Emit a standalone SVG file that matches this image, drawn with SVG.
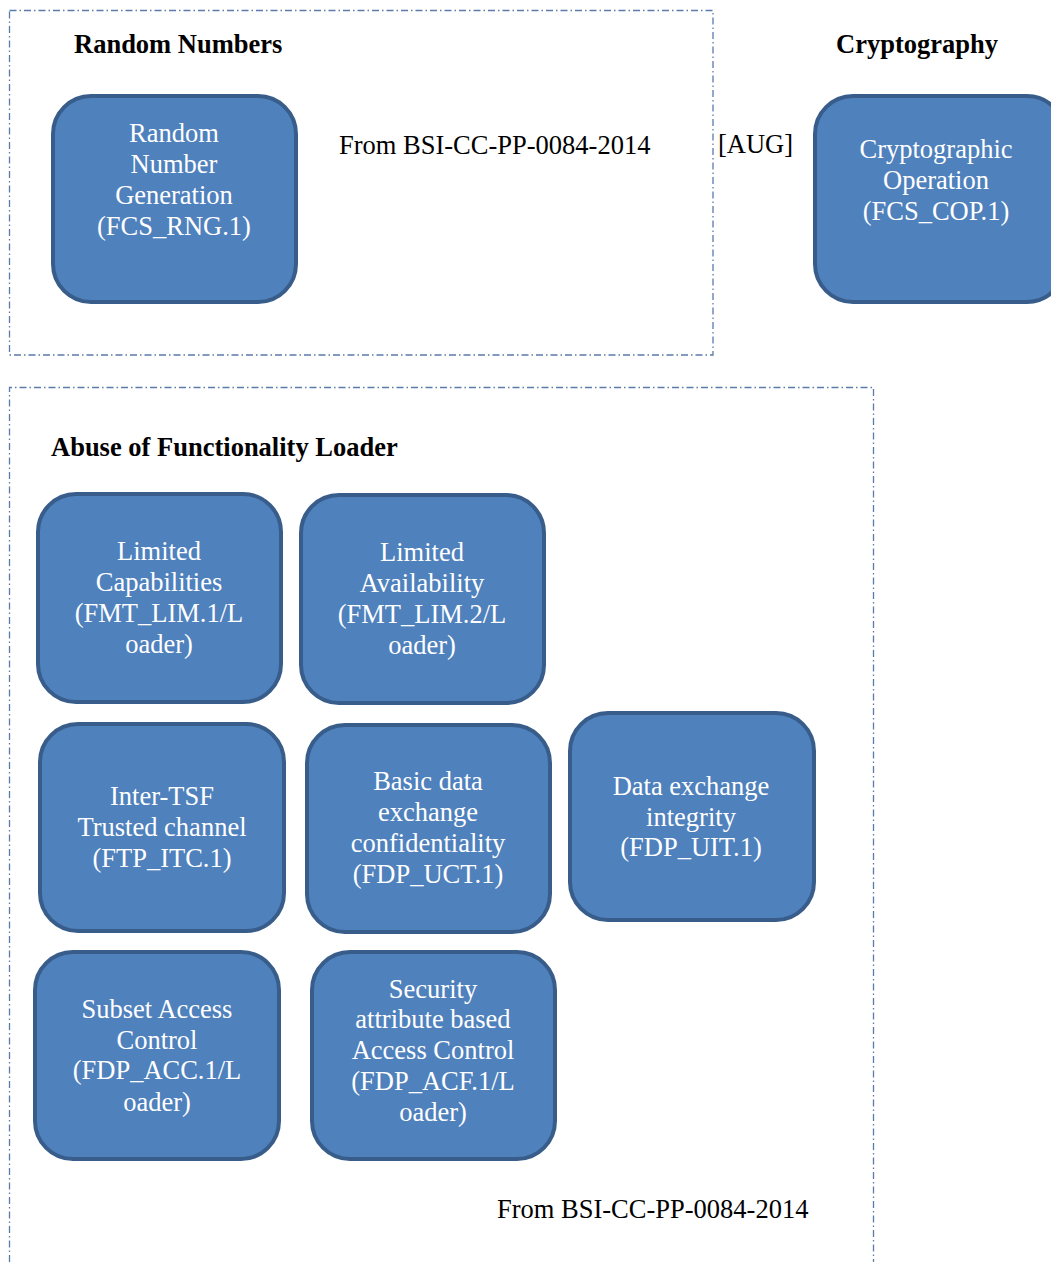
<svg xmlns="http://www.w3.org/2000/svg" width="1051" height="1262" viewBox="0 0 1051 1262">
<style>
.frame{fill:none;stroke:#5b7bab;stroke-width:1.3;stroke-dasharray:7 3 1.5 3}
.node{fill:#4f81bd;stroke:#385d8a;stroke-width:4}
text{font-family:'Liberation Serif','Times New Roman',serif}
.nt{font-size:26.5px;fill:#ffffff;text-anchor:middle}
.h{font-size:26.5px;font-weight:bold;fill:#000}
.t{font-size:26.5px;fill:#000}
</style>
<rect width="1051" height="1262" fill="#ffffff"/>
<g id="frames">
<rect class="frame" x="9.5" y="10.5" width="703.5" height="344.5"/>
<path class="frame" d="M9.5 1262 V387.5 H873.5 V1262"/>
</g>
<g id="labels">
<text class="h" x="74" y="53">Random Numbers</text>
<text class="h" x="836" y="53">Cryptography</text>
<text class="h" x="51" y="456">Abuse of Functionality Loader</text>
<text class="t" x="339" y="154">From BSI-CC-PP-0084-2014</text>
<text class="t" x="718" y="153">[AUG]</text>
<text class="t" x="497" y="1218">From BSI-CC-PP-0084-2014</text>
</g>
<g id="connectors"></g>
<g id="n-rng">
<rect class="node" x="53" y="96" width="243" height="206" rx="38"/>
<text class="nt"><tspan x="174" y="142">Random</tspan><tspan x="174" y="173">Number</tspan><tspan x="174" y="204">Generation</tspan><tspan x="174" y="235">(FCS_RNG.1)</tspan></text>
</g>
<g id="n-cop">
<rect class="node" x="815" y="96" width="250" height="206" rx="38"/>
<text class="nt"><tspan x="936" y="158">Cryptographic</tspan><tspan x="936" y="189">Operation</tspan><tspan x="936" y="220">(FCS_COP.1)</tspan></text>
</g>
<g id="n-lim1">
<rect class="node" x="38" y="494" width="243" height="208" rx="38"/>
<text class="nt"><tspan x="159" y="560">Limited</tspan><tspan x="159" y="591">Capabilities</tspan><tspan x="159" y="622">(FMT_LIM.1/L</tspan><tspan x="159" y="653">oader)</tspan></text>
</g>
<g id="n-lim2">
<rect class="node" x="301" y="495" width="243" height="208" rx="38"/>
<text class="nt"><tspan x="422" y="561">Limited</tspan><tspan x="422" y="592">Availability</tspan><tspan x="422" y="623">(FMT_LIM.2/L</tspan><tspan x="422" y="654">oader)</tspan></text>
</g>
<g id="n-itc">
<rect class="node" x="40" y="724" width="244" height="207" rx="38"/>
<text class="nt"><tspan x="162" y="805">Inter-TSF</tspan><tspan x="162" y="836">Trusted channel</tspan><tspan x="162" y="867">(FTP_ITC.1)</tspan></text>
</g>
<g id="n-uct">
<rect class="node" x="307" y="725" width="243" height="207" rx="38"/>
<text class="nt"><tspan x="428" y="790">Basic data</tspan><tspan x="428" y="821">exchange</tspan><tspan x="428" y="852">confidentiality</tspan><tspan x="428" y="883">(FDP_UCT.1)</tspan></text>
</g>
<g id="n-uit">
<rect class="node" x="570" y="713" width="244" height="207" rx="38"/>
<text class="nt"><tspan x="691" y="795">Data exchange</tspan><tspan x="691" y="826">integrity</tspan><tspan x="691" y="856">(FDP_UIT.1)</tspan></text>
</g>
<g id="n-acc">
<rect class="node" x="35" y="952" width="244" height="207" rx="38"/>
<text class="nt"><tspan x="157" y="1018">Subset Access</tspan><tspan x="157" y="1049">Control</tspan><tspan x="157" y="1079">(FDP_ACC.1/L</tspan><tspan x="157" y="1111">oader)</tspan></text>
</g>
<g id="n-acf">
<rect class="node" x="312" y="952" width="243" height="207" rx="38"/>
<text class="nt"><tspan x="433" y="998">Security</tspan><tspan x="433" y="1028">attribute based</tspan><tspan x="433" y="1059">Access Control</tspan><tspan x="433" y="1090">(FDP_ACF.1/L</tspan><tspan x="433" y="1121">oader)</tspan></text>
</g>
</svg>
